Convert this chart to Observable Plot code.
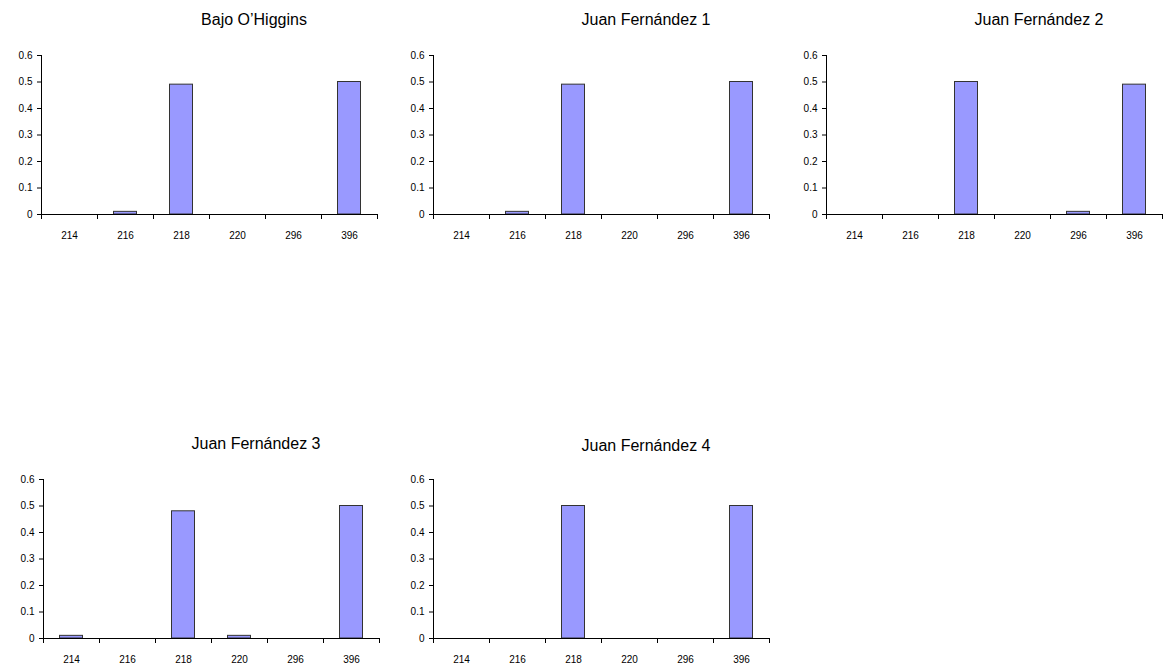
<!DOCTYPE html>
<html>
<head>
<meta charset="utf-8">
<script src="https://cdn.jsdelivr.net/npm/d3@7"></script>
<script src="https://cdn.jsdelivr.net/npm/@observablehq/plot@0.6"></script>
<style>
  html, body { margin: 0; padding: 0; background: #fff; }
  #wrap { position: relative; width: 1163px; height: 670px; overflow: hidden; font-family: "Liberation Sans", Arial, sans-serif; }
  .panel { position: absolute; }
  .title { position: absolute; font-size: 16px; color: #000; white-space: nowrap; transform: translate(-50%, -50%); }
</style>
</head>
<body>
<div id="wrap"></div>
<script>
const categories = ["214", "216", "218", "220", "296", "396"];
const titles = ["Bajo O\u2019Higgins", "Juan Fern\u00e1ndez 1", "Juan Fern\u00e1ndez 2", "Juan Fern\u00e1ndez 3", "Juan Fern\u00e1ndez 4"];
const bajoOHiggins   = [0, 0.01, 0.49, 0, 0, 0.50];
const juanFernandez1 = [0, 0.01, 0.49, 0, 0, 0.50];
const juanFernandez2 = [0, 0, 0.50, 0, 0.01, 0.49];
const juanFernandez3 = [0.01, 0, 0.48, 0.01, 0, 0.50];
const juanFernandez4 = [0, 0, 0.50, 0, 0, 0.50];
const yTicks = [0, 0.1, 0.2, 0.3, 0.4, 0.5, 0.6];

const series = [bajoOHiggins, juanFernandez1, juanFernandez2, juanFernandez3, juanFernandez4];
// layout: svg left/top and title centre
const layout = [
  {left: 0,   top: 0,   tx: 254,  ty: 20},
  {left: 392, top: 0,   tx: 646,  ty: 20},
  {left: 785, top: 0,   tx: 1039, ty: 20},
  {left: 2,   top: 424, tx: 256,  ty: 444},
  {left: 392, top: 424, tx: 646,  ty: 446}
];

const wrap = document.getElementById("wrap");

series.forEach((vals, k) => {
  const data = categories.map((c, i) => ({cat: c, i, v: vals[i]}));
  const chart = Plot.plot({
    width: 378,
    height: 250,
    marginLeft: 41,
    marginRight: 1,
    marginTop: 55,
    marginBottom: 36,
    style: {fontFamily: "'Liberation Sans', Arial, sans-serif", fontSize: "10px", color: "#000", background: "transparent"},
    x: {type: "linear", domain: [0, categories.length], label: null},
    y: {domain: [0, 0.6], label: null},
    marks: [
      Plot.rectY(data.filter(d => d.v > 0), {
        x1: d => d.i, x2: d => d.i + 1, y: "v",
        insetLeft: 16.5, insetRight: 16.5,
        fill: "#9999ff", stroke: "#333", strokeWidth: 1
      }),
      Plot.ruleY([0], {stroke: "#000"}),
      Plot.ruleX([0], {stroke: "#000"}),
      Plot.axisX({ticks: d3.range(categories.length + 1), tickFormat: () => "", tickSize: 5, stroke: "#000", label: null}),
      Plot.axisX({
        ticks: categories.map((c, i) => i + 0.5),
        tickFormat: t => categories[Math.floor(t)],
        tickSize: 0, tickPadding: 17, fontSize: 10, label: null
      }),
      Plot.axisY({ticks: yTicks, tickSize: 4, tickPadding: 5, tickFormat: d => d === 0 ? "0" : d3.format(".1f")(d), fontSize: 10, label: null})
    ]
  });
  chart.classList.add("panel");
  chart.style.left = layout[k].left + "px";
  chart.style.top = layout[k].top + "px";
  wrap.appendChild(chart);

  const t = document.createElement("div");
  t.className = "title";
  t.textContent = titles[k];
  t.style.left = layout[k].tx + "px";
  t.style.top = layout[k].ty + "px";
  wrap.appendChild(t);
});
</script>
</body>
</html>
